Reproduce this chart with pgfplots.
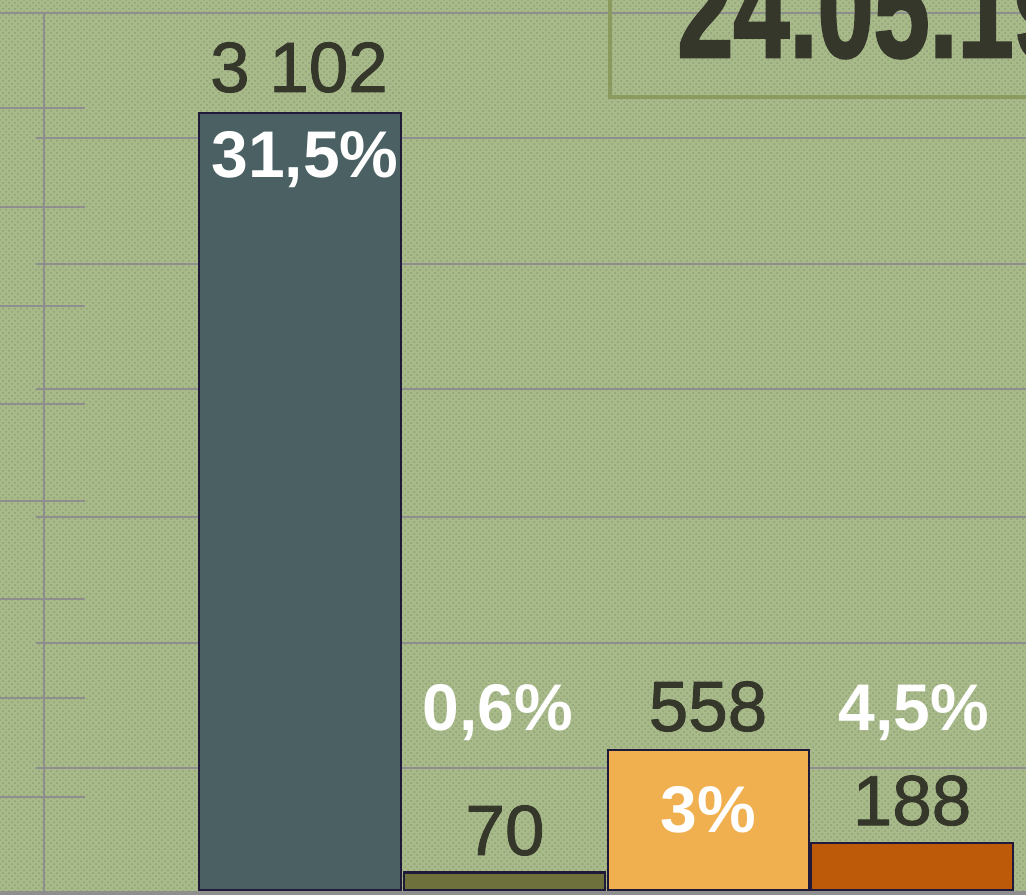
\documentclass[border=0pt]{standalone}
\usepackage{pgfplots}
\pgfplotsset{compat=1.18}
\usepackage{fontspec}
\setmainfont{Liberation Sans}
\newfontfamily\medfont[FakeBold=1.2]{Liberation Sans}
\newfontfamily\heavyfont[FakeBold=2]{Liberation Sans Bold}
\usetikzlibrary{patterns}
\definecolor{bg}{HTML}{A8B98A}
\definecolor{bgdot}{HTML}{7F9063}
\definecolor{gridgray}{HTML}{8E8E8E}
\definecolor{cA}{HTML}{4A6063}
\definecolor{cB}{HTML}{6E713C}
\definecolor{cC}{HTML}{F0B050}
\definecolor{cD}{HTML}{BC5A0A}
\definecolor{edge}{HTML}{1F1A3A}
\definecolor{ink}{HTML}{34372A}
\definecolor{boxc}{HTML}{8B9A5E}
\begin{document}
\begin{tikzpicture}
\useasboundingbox (0,0) rectangle (513pt,447pt);
\begin{scope}
\clip (0,0) rectangle (513pt,447pt);
\fill[bg] (0,0) rectangle (513pt,447pt);
\fill[pattern=crosshatch dots, pattern color=bgdot!60!bg] (0,0) rectangle (513pt,447pt);
\begin{scope}[x=0.5pt,y=-0.5pt,yshift=447pt]
  \begin{scope}[draw=gridgray, line width=1pt]
    \draw (0,13) -- (1026,13);
    \foreach \yy in {138,264,389,517,643,768} {\draw (36,\yy) -- (1026,\yy);}
    \foreach \yy in {108,207,306,404,501,599,698,797} {\draw (0,\yy) -- (85,\yy);}
    \draw (44,13) -- (44,894);
    \draw[line width=2pt] (0,893) -- (1026,893);
  \end{scope}
\end{scope}
\begin{axis}[at={(0,0)}, anchor=south west, scale only axis,
  width=513pt, height=447pt, xmin=0, xmax=1026, ymin=-16, ymax=3553,
  hide axis, clip=false]
\addplot[ybar, bar width=201.5, bar shift=0pt, fill=cA, draw=edge, line width=1.2pt] coordinates {(300,3102)};
\addplot[ybar, bar width=201.5, bar shift=0pt, fill=cB, draw=edge, line width=1.2pt] coordinates {(504.5,70)};
\addplot[ybar, bar width=201.5, bar shift=0pt, fill=cC, draw=edge, line width=1.2pt] coordinates {(708.5,558)};
\addplot[ybar, bar width=201.5, bar shift=0pt, fill=cD, draw=edge, line width=1.2pt] coordinates {(912,188)};
\node[inner sep=0pt, anchor=base, text=ink, font=\medfont\fontsize{35.5}{40}\selectfont] at (axis cs:299,3186) {3 102};
\node[inner sep=0pt, anchor=base, text=white, font=\fontsize{33}{38}\selectfont\bfseries] at (axis cs:305,2846) {31,5\%};
\node[inner sep=0pt, anchor=base, text=white, font=\fontsize{33}{38}\selectfont\bfseries] at (axis cs:498,635) {0,6\%};
\node[inner sep=0pt, anchor=base, text=ink, font=\medfont\fontsize{35.5}{40}\selectfont] at (axis cs:505,140) {70};
\node[inner sep=0pt, anchor=base, text=ink, font=\medfont\fontsize{35.5}{40}\selectfont] at (axis cs:708,635) {558};
\node[inner sep=0pt, anchor=base, text=white, font=\fontsize{33}{38}\selectfont\bfseries] at (axis cs:708,228) {3\%};
\node[inner sep=0pt, anchor=base, text=white, font=\fontsize{33}{38}\selectfont\bfseries] at (axis cs:914,635) {4,5\%};
\node[inner sep=0pt, anchor=base, text=ink, font=\medfont\fontsize{35.5}{40}\selectfont] at (axis cs:912,259) {188};
\end{axis}
\begin{scope}[x=0.5pt,y=-0.5pt,yshift=447pt]
  \draw[boxc, line width=2pt] (610,-20) -- (610,97) -- (1040,97);
  \node[anchor=base west, inner sep=0pt, text=ink] at (677,57)
    {\scalebox{0.72}[1]{\heavyfont\fontsize{70}{80}\selectfont 24.05.19}};
\end{scope}
\end{scope}
\end{tikzpicture}
\end{document}
